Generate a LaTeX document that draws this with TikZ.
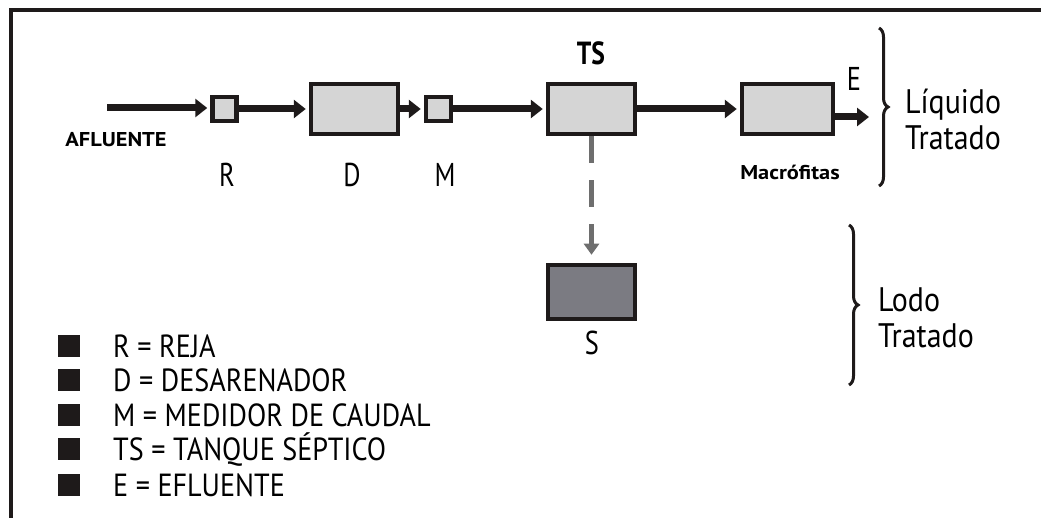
\documentclass[tikz,border=0pt]{standalone}
\usepackage{fontspec}
\setmainfont{PT Sans}
\newfontfamily\cnd[FakeStretch=0.88]{PT Sans}
\newfontfamily\rcnd[FakeStretch=0.8]{PT Sans}
\newfontfamily\wide[FakeStretch=1.12]{PT Sans}
\usetikzlibrary{arrows.meta,decorations.pathreplacing}
\definecolor{ink}{HTML}{1E1A1A}
\definecolor{lightbox}{HTML}{D5D5D5}
\definecolor{darkbox}{HTML}{7B7B82}
\definecolor{dashgray}{HTML}{6E6E6E}
\begin{document}
\begin{tikzpicture}[x=1pt,y=-1pt,
  flow/.style={line width=7pt,shorten >=3pt,-{Triangle[length=12pt,width=18pt]},color=ink},
  unit/.style={draw=ink,line width=4.5pt,fill=lightbox,inner sep=0pt},
  lbl/.style={inner sep=0pt,anchor=base,font=\rcnd\fontsize{33}{36}\selectfont},
  small/.style={inner sep=0pt,anchor=base,font=\wide\bfseries\fontsize{20}{22}\selectfont},
  legsq/.style={fill=ink,minimum width=22pt,minimum height=22pt,inner sep=0pt},
  legtxt/.style={inner sep=0pt,anchor=base west,font=\cnd\fontsize{32}{34}\selectfont},
  side/.style={inner sep=0pt,anchor=base west,font=\cnd\fontsize{34}{36}\selectfont},
  brc/.style={line width=3pt,ink,decorate,decoration={brace,amplitude=9pt}}]
\useasboundingbox (0,0) rectangle (1041,518);
\draw[line width=4pt,ink] (11,518) -- (11,10) -- (1041,10);
% units
\node[unit,minimum width=24pt,minimum height=24pt] (R) at (224.5,109) {};
\node[unit,minimum width=87pt,minimum height=50pt] (D) at (354.5,109) {};
\node[unit,minimum width=25pt,minimum height=24pt] (M) at (438.5,109) {};
\node[unit,minimum width=87pt,minimum height=50pt] (TS) at (591.5,109) {};
\node[unit,minimum width=91pt,minimum height=50pt] (Mac) at (787.5,109) {};
\node[draw=ink,line width=4.5pt,fill=darkbox,inner sep=0pt,minimum width=87pt,minimum height=54pt] (S) at (591.5,292) {};
\coordinate (in) at (107,108);
\coordinate (out) at (869,117);
% flows
\draw[flow] (in) -- (R.west |- in);
\draw[flow] (R) -- (D);
\draw[flow] (D) -- (M);
\draw[flow] (M) -- (TS);
\draw[flow] (TS) -- (Mac);
\draw[flow,shorten >=0pt] (Mac.east |- out) -- (out);
\draw[line width=5.5pt,dashgray,dash pattern=on 27pt off 17pt,shorten >=8pt,-{Triangle[length=11pt,width=15pt]}] (TS.south) -- (S.north);
% labels
\node[small] (afl) at (116,147) {AFLUENTE};
\node[lbl] (lR) at (227,187) {R};
\node[lbl] (lD) at (352,187) {D};
\node[lbl] (lM) at (445,187) {M};
\node[lbl,font=\rcnd\bfseries\fontsize{32}{34}\selectfont] (lTS) at (591,65) {TS};
\node[lbl] (lE) at (854,91) {E};
\node[small] (lMac) at (790,180) {Macrófitas};
\node[lbl] (lS) at (592,355) {S};
% braces
\draw[brc] (879,28) -- (879,186);
\node[side] (liq1) at (905,114) {Líquido};
\node[side] (liq2) at (905,150) {Tratado};
\draw[brc] (849,225) -- (849,385);
\node[side] (lodo1) at (878,312) {Lodo};
\node[side] (lodo2) at (878,348) {Tratado};
% legend
\foreach \y/\t [count=\i] in {346/R = REJA,380/D = DESARENADOR,415/M = MEDIDOR DE CAUDAL,449/TS = TANQUE SÉPTICO,485/E = EFLUENTE}{
  \node[legsq] (sq\i) at (69,\y) {};
  \node[legtxt] (lt\i) at (113,\y+11) {\t};
}
\end{tikzpicture}
\end{document}
